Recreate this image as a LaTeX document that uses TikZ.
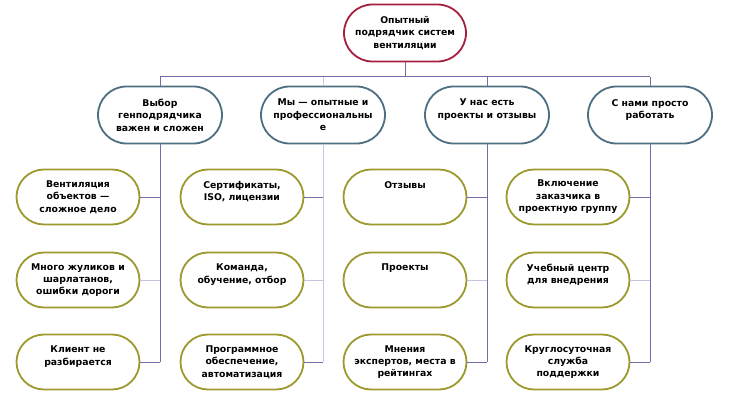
\documentclass[tikz,border=0pt]{standalone}
\usepackage{fontspec}
\setmainfont{DejaVu Sans}
\usetikzlibrary{shapes.misc}
\begin{document}
\begin{tikzpicture}[x=1pt,y=-1pt,
  box/.style={draw, fill=white, line width=1.8pt, rounded rectangle,
    align=center, font=\fontsize{9.3}{12.4}\selectfont\bfseries,
    inner sep=0pt},
  topbox/.style={box, draw=topc, minimum width=122pt, minimum height=57pt},
  midbox/.style={box, draw=midc, minimum width=124pt, minimum height=57pt},
  leafbox/.style={box, draw=leafc, minimum width=123pt, minimum height=55pt},
  conn/.style={draw=linec, line width=1pt},
  connl/.style={draw=linel, line width=1pt}]
\definecolor{topc}{HTML}{A3203F}
\definecolor{midc}{HTML}{4E6E82}
\definecolor{leafc}{HTML}{9C9A2E}
\definecolor{linec}{HTML}{716DA8}
\definecolor{linel}{HTML}{C6C4DE}
\useasboundingbox[fill=white] (0,0) rectangle (745,412);
\def\e{\\\mbox{}}
% top
\node[topbox] (top) at (405,33) {Опытный\\подрядчик систем\\вентиляции};
% level 2
\node[midbox] (m1) at (160,115) {Выбор\\генподрядчика\\важен и сложен};
\node[midbox] (m2) at (323,115) {Мы — опытные и\\профессиональны\\е};
\node[midbox] (m3) at (487,115) {У нас есть\\проекты и отзывы\e};
\node[midbox] (m4) at (650,115) {С нами просто\\работать\e};
% leaves
\node[leafbox] (a1) at (78,197) {Вентиляция\\объектов —\\сложное дело};
\node[leafbox] (a2) at (78,280) {Много жуликов и\\шарлатанов,\\ошибки дороги};
\node[leafbox] (a3) at (78,362) {Клиент не\\разбирается\e};
\node[leafbox] (b1) at (242,197) {Сертификаты,\\ISO, лицензии\e};
\node[leafbox] (b2) at (242,280) {Команда,\\обучение, отбор\e};
\node[leafbox] (b3) at (242,362) {Программное\\обеспечение,\\автоматизация};
\node[leafbox] (c1) at (405,197) {Отзывы\e\e};
\node[leafbox] (c2) at (405,280) {Проекты\e\e};
\node[leafbox] (c3) at (405,362) {Мнения\\экспертов, места в\\рейтингах};
\node[leafbox] (d1) at (568,197) {Включение\\заказчика в\\проектную группу};
\node[leafbox] (d2) at (568,280) {Учебный центр\\для внедрения\e};
\node[leafbox] (d3) at (568,362) {Круглосуточная\\служба\\поддержки};
\coordinate (bar) at (0,77);
% connectors
\draw[conn] (top.south) -- (top.south |- bar);
\draw[conn] (m1.north |- bar) -- (m4.north |- bar);
\draw[conn] (m1.north) -- (m1.north |- bar);
\draw[connl] (m2.north) -- (m2.north |- bar);
\draw[conn] (m3.north) -- (m3.north |- bar);
\draw[conn] (m4.north) -- (m4.north |- bar);
\draw[conn] (m1.south) -- (m1.south |- a3.east);
\draw[connl] (m2.south) -- (m2.south |- b3.east);
\draw[conn] (m3.south) -- (m3.south |- c3.east);
\draw[conn] (m4.south) -- (m4.south |- d3.east);
\draw[conn] (a1.east) -- (a1.east -| m1.south);
\draw[connl] (a2.east) -- (a2.east -| m1.south);
\draw[conn] (a3.east) -- (a3.east -| m1.south);
\draw[conn] (b1.east) -- (b1.east -| m2.south);
\draw[connl] (b2.east) -- (b2.east -| m2.south);
\draw[conn] (b3.east) -- (b3.east -| m2.south);
\draw[conn] (c1.east) -- (c1.east -| m3.south);
\draw[connl] (c2.east) -- (c2.east -| m3.south);
\draw[conn] (c3.east) -- (c3.east -| m3.south);
\draw[conn] (d1.east) -- (d1.east -| m4.south);
\draw[connl] (d2.east) -- (d2.east -| m4.south);
\draw[conn] (d3.east) -- (d3.east -| m4.south);
\end{tikzpicture}
\end{document}
